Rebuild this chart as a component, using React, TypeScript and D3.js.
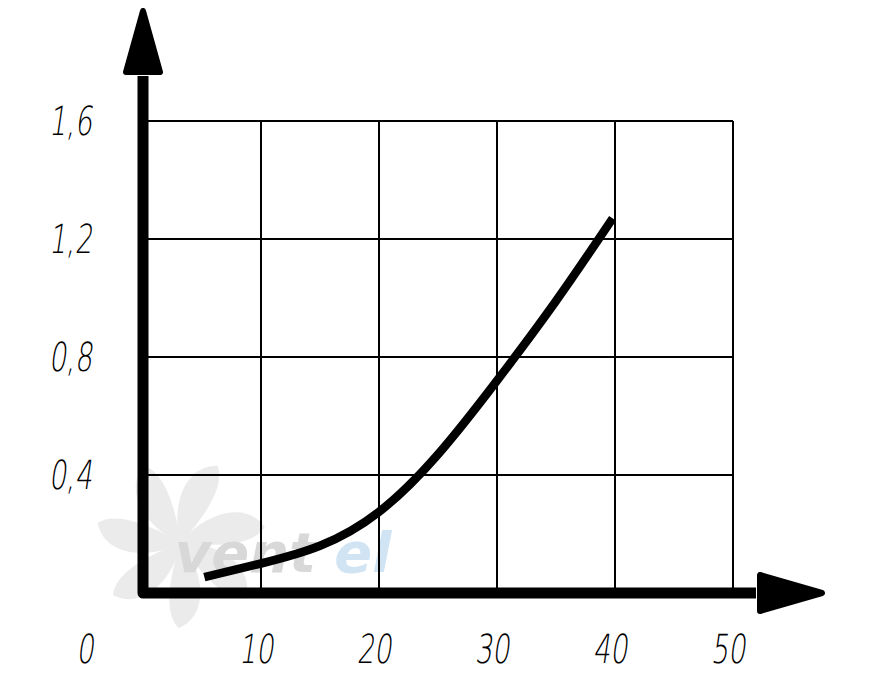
import { useEffect, useRef } from 'react';
import * as d3 from 'd3';

// values
const curveX = [5.2, 10, 15, 20, 25, 30, 35, 39.8];
const curveY = [0.054, 0.1, 0.16, 0.275, 0.47, 0.72, 0.99, 1.27];

const xTicks = [10, 20, 30, 40, 50];
const yTicks = [0.4, 0.8, 1.2, 1.6];
const yLabels = ['0,4', '0,8', '1,2', '1,6'];

const App = () => {
  const ref = useRef<SVGSVGElement>(null);

  useEffect(() => {
    const width = 871;
    const height = 683;

    const svg = d3.select(ref.current);
    svg.selectAll('*').remove();
    svg.attr('width', width).attr('height', height);

    const x = d3.scaleLinear().domain([0, 50]).range([143, 733]);
    const y = d3.scaleLinear().domain([0, 1.6]).range([593, 121]);

    const font = '"DejaVu Sans", sans-serif';

    // faint watermark (fan + brand text)
    const wm = svg.append('g');
    const cx = x(3.2);
    const cy = y(0.17);
    for (let i = 0; i < 7; i++) {
      wm.append('path')
        .attr('d', 'M0,0 C15,-30 55,-55 80,-30 C72,-10 35,-2 0,0 Z')
        .attr('fill', '#ebebeb')
        .attr('transform', `translate(${cx},${cy}) rotate(${i * 51 + 10})`);
    }
    wm.append('text')
      .attr('x', x(2.7))
      .attr('y', y(0.07))
      .attr('font-family', font)
      .attr('font-weight', 'bold')
      .attr('font-style', 'italic')
      .attr('font-size', 56)
      .attr('fill', '#d8d8d8')
      .text('vent');
    wm.append('text')
      .attr('x', x(16.2))
      .attr('y', y(0.07))
      .attr('font-family', font)
      .attr('font-weight', 'bold')
      .attr('font-style', 'italic')
      .attr('font-size', 56)
      .attr('fill', '#d0e4f4')
      .text('el');

    // grid
    const grid = svg.append('g').attr('stroke', '#000').attr('stroke-width', 2);
    grid
      .selectAll('line.v')
      .data(xTicks)
      .join('line')
      .attr('class', 'v')
      .attr('x1', (d) => x(d))
      .attr('x2', (d) => x(d))
      .attr('y1', y(0))
      .attr('y2', y(1.6));
    grid
      .selectAll('line.h')
      .data(yTicks)
      .join('line')
      .attr('class', 'h')
      .attr('x1', x(0))
      .attr('x2', x(50))
      .attr('y1', (d) => y(d))
      .attr('y2', (d) => y(d));

    // curve
    const pts = curveX.map((v, i) => [v, curveY[i]] as [number, number]);
    svg
      .append('path')
      .datum(pts)
      .attr('fill', 'none')
      .attr('stroke', '#000')
      .attr('stroke-width', 8.5)
      .attr(
        'd',
        d3
          .line<[number, number]>()
          .x((d) => x(d[0]))
          .y((d) => y(d[1]))
          .curve(d3.curveNatural)
      );

    // axes with arrows
    const x0 = x(0);
    const y0 = y(0);
    const yArrowBase = y(1.6) - 49;
    const yArrowTip = y(1.6) - 110;
    const xArrowBase = x(50) + 27;
    const xArrowTip = x(50) + 89;
    svg
      .append('path')
      .attr('d', `M${x0},${yArrowBase + 4} L${x0},${y0} L${xArrowBase - 4},${y0}`)
      .attr('fill', 'none')
      .attr('stroke', '#000')
      .attr('stroke-width', 11)
      .attr('stroke-linejoin', 'round');
    svg
      .append('path')
      .attr('d', `M${x0},${yArrowTip} L${x0 + 17},${yArrowBase} L${x0 - 17},${yArrowBase} Z`)
      .attr('fill', '#000')
      .attr('stroke', '#000')
      .attr('stroke-width', 6)
      .attr('stroke-linejoin', 'round');
    svg
      .append('path')
      .attr('d', `M${xArrowTip},${y0} L${xArrowBase},${y0 - 18} L${xArrowBase},${y0 + 18} Z`)
      .attr('fill', '#000')
      .attr('stroke', '#000')
      .attr('stroke-width', 6)
      .attr('stroke-linejoin', 'round');

    // tick labels
    const label = (g: d3.Selection<SVGTextElement, any, any, any>) =>
      g
        .attr('font-family', font)
        .attr('font-weight', 200)
        .attr('font-size', 40)
        .attr('fill', '#000');

    const yl = svg.append('g');
    yTicks.forEach((t, i) => {
      const px = 92;
      const py = y(t) + 14;
      yl.append('text')
        .call(label)
        .attr('text-anchor', 'end')
        .attr('transform', `translate(${px},${py}) scale(0.68,1) skewX(-12)`)
        .text(yLabels[i]);
    });

    const xl = svg.append('g');
    [0, ...xTicks].forEach((t) => {
      const px = t === 0 ? x(0) - 58 : x(t) - 5;
      const py = y(0) + 70;
      xl.append('text')
        .call(label)
        .attr('text-anchor', 'middle')
        .attr('transform', `translate(${px},${py}) scale(0.68,1) skewX(-12)`)
        .text(String(t));
    });
  }, []);

  return (
    <div style={{ position: 'absolute', left: 0, top: 0, background: '#fff' }}>
      <svg ref={ref} />
    </div>
  );
};

export default App;
